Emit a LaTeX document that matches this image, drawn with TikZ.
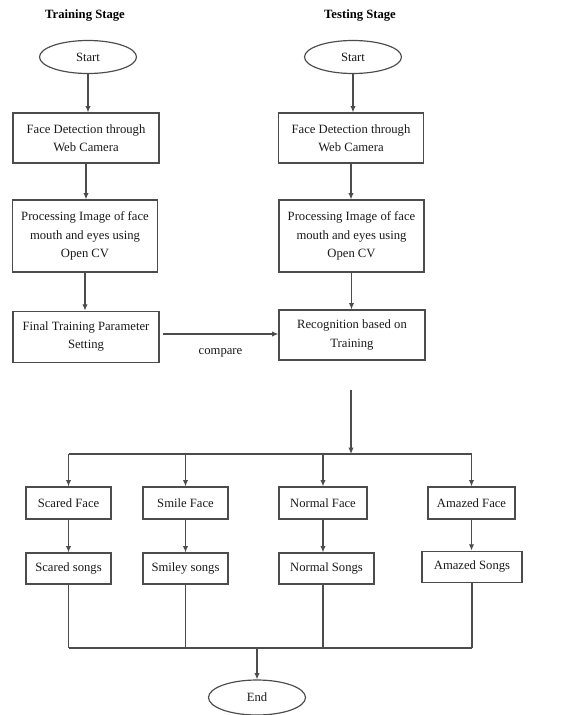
\documentclass[tikz,border=0pt]{standalone}
\usepackage{fontspec}
\setmainfont{Liberation Serif}
\usetikzlibrary{shapes.geometric,arrows.meta}
\begin{document}
\begin{tikzpicture}[
  font=\fontsize{10.8}{15.5}\selectfont,
  box/.style={draw=black!70,line width=1pt,align=center,inner sep=0pt,text=black!90},
  oval/.style={draw=black!70,line width=1pt,ellipse,inner sep=0pt,minimum width=2.91cm,minimum height=0.99cm,text=black!90},
  flow/.style={draw=black!70,line width=1pt,-{Latex[length=1.9mm,width=1.6mm]}},
  link/.style={draw=black!70,line width=1pt}]

\useasboundingbox (0,0) rectangle (16.83,-21.45);

\node[font=\fontsize{10.8}{15.5}\selectfont\bfseries] (ttitle) at (2.55,-0.48) {Training Stage};
\node[font=\fontsize{10.8}{15.5}\selectfont\bfseries] (stitle) at (10.8,-0.48) {Testing Stage};

\node[oval] (tstart) at (2.64,-1.71) {Start};
\node[box,minimum width=4.38cm,minimum height=1.5cm] (tdet) at (2.58,-4.14) {Face Detection through\\Web Camera};
\node[box,minimum width=4.35cm,minimum height=2.16cm] (tproc) at (2.55,-7.08) {Processing Image of face\\mouth and eyes using\\Open CV};
\node[box,minimum width=4.38cm,minimum height=1.53cm] (tfinal) at (2.58,-10.1) {Final Training Parameter\\Setting};

\node[oval] (sstart) at (10.59,-1.71) {Start};
\node[box,minimum width=4.35cm,minimum height=1.5cm] (sdet) at (10.53,-4.14) {Face Detection through\\Web Camera};
\node[box,minimum width=4.35cm,minimum height=2.16cm] (sproc) at (10.545,-7.08) {Processing Image of face\\mouth and eyes using\\Open CV};
\node[box,minimum width=4.38cm,minimum height=1.5cm] (srec) at (10.56,-10.05) {Recognition based on\\Training};

\draw[flow] (tstart) -- (tstart |- tdet.north);
\draw[flow] (tdet) -- (tdet |- tproc.north);
\draw[flow] (tproc) -- (tproc |- tfinal.north);
\draw[flow] (sstart) -- (sstart |- sdet.north);
\draw[flow] (sdet) -- (sdet |- sproc.north);
\draw[flow] (sproc) -- (sproc |- srec.north);
\draw[flow] ([xshift=0.09cm,yshift=0.08cm]tfinal.east) -- node[below=0.3cm,text=black!90] (cmp) {compare} ([yshift=0.08cm]tfinal.east -| srec.west);

\coordinate (rtop) at (10.53,-11.7);
\coordinate (br) at (10.53,-13.62);
\draw[flow] (rtop) -- (br);

\node[box,minimum width=2.55cm,minimum height=0.96cm] (scface) at (2.055,-15.09) {Scared Face};
\node[box,minimum width=2.55cm,minimum height=0.96cm] (smface) at (5.565,-15.09) {Smile Face};
\node[box,minimum width=2.64cm,minimum height=0.96cm] (noface) at (9.69,-15.09) {Normal Face};
\node[box,minimum width=2.61cm,minimum height=0.96cm] (amface) at (14.145,-15.09) {Amazed Face};

\node[box,minimum width=2.55cm,minimum height=0.93cm] (scsong) at (2.055,-17.055) {Scared songs};
\node[box,minimum width=2.55cm,minimum height=0.93cm] (smsong) at (5.565,-17.055) {Smiley songs};
\node[box,minimum width=2.85cm,minimum height=0.93cm] (nosong) at (9.795,-17.055) {Normal Songs};
\node[box,minimum width=3.0cm,minimum height=0.93cm] (amsong) at (14.16,-17.0) {Amazed Songs};

\draw[link] (scface.north |- br) -- (amface.north |- br);
\foreach \f in {scface,smface,noface,amface}
  \draw[flow] (\f.north |- br) -- (\f.north);

\draw[flow] (scface) -- (scsong);
\draw[flow] (smface) -- (smsong);
\draw[flow] (noface) -- (noface |- nosong.north);
\draw[flow] (amface) -- (amface |- amsong.north);

\node[oval,minimum height=1.05cm] (end) at (7.71,-20.925) {End};

\coordinate (col) at (7.71,-19.44);
\foreach \s in {scsong,smsong,amsong}
  \draw[link] (\s.south) -- (\s.south |- col);
\draw[link] (noface.south |- nosong.south) -- (noface.south |- col);
\draw[link] (scsong.south |- col) -- (amsong.south |- col);
\draw[flow] (col) -- (end);
\end{tikzpicture}
\end{document}
